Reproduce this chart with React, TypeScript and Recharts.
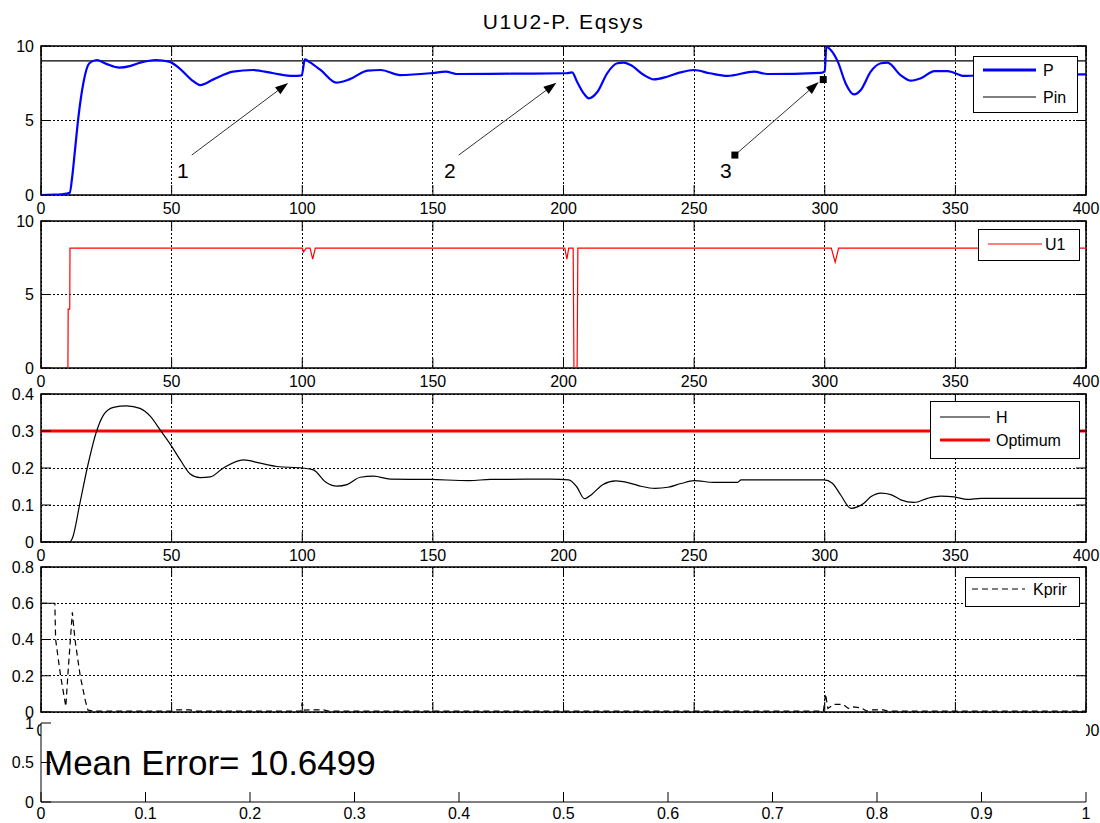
import React from 'react';
import {
  LineChart,
  Line,
  XAxis,
  YAxis,
  CartesianGrid,
  ReferenceArea,
  ReferenceLine,
  ReferenceDot,
  Legend
} from 'recharts';

if (typeof document !== 'undefined') document.body.style.margin = '0';

const FONT = '"Liberation Sans", Arial, Helvetica, sans-serif';

// ---- axes ----
const timeTicks = [0, 50, 100, 150, 200, 250, 300, 350, 400];
const powerTicks = [0, 5, 10];
const hTicks = [0, 0.1, 0.2, 0.3, 0.4];
const kTicks = [0, 0.2, 0.4, 0.6, 0.8];
const errXTicks = [0, 0.1, 0.2, 0.3, 0.4, 0.5, 0.6, 0.7, 0.8, 0.9, 1];
const errYTicks = [0, 0.5, 1];

// ---- panel 1: P and Pin ----
const pTime = [0, 5, 10, 11, 12, 13, 14.3, 16.2, 18.5, 21.3, 25, 30, 34, 38, 44, 49, 53, 57.5, 61, 66, 73.5, 81, 89, 96.5, 99.8, 101, 103, 107, 113, 118, 125, 130, 137.5, 149, 155, 159, 180, 201, 203.3, 205.2, 207.8, 209.7, 213, 216.7, 220.6, 223, 225.7, 230.8, 234.6, 239.7, 244.8, 250, 256, 262.7, 273, 278, 298.5, 300, 300.6, 302.3, 305, 308, 311.2, 313.8, 317.6, 321.5, 324, 329, 333, 336.8, 342, 347, 353.4, 361, 400];
const pValues = [0, 0.02, 0.1, 0.15, 1.3, 3, 5.2, 7.5, 8.84, 9.06, 8.8, 8.55, 8.65, 8.88, 9.06, 8.95, 8.5, 7.75, 7.38, 7.76, 8.28, 8.39, 8.17, 7.99, 8.03, 9.1, 8.9, 8.39, 7.54, 7.76, 8.35, 8.39, 8.05, 8.17, 8.28, 8.12, 8.14, 8.17, 8.23, 7.6, 6.8, 6.49, 6.93, 8.17, 8.84, 8.88, 8.72, 8.05, 7.76, 7.94, 8.23, 8.39, 8.17, 7.99, 8.28, 8.12, 8.2, 8.3, 9.95, 9.73, 8.95, 7.49, 6.75, 7.05, 8.28, 8.84, 8.88, 8.05, 7.67, 7.83, 8.32, 8.32, 7.99, 8.05, 8.1];
const pinTime = [0, 400];
const pinValues = [9, 9];

// annotation arrows: label, start (t, P), tip (t, P)
const arrowLabels = ['1', '2', '3'];
const arrowFromT = [57.7, 159.9, 265.6];
const arrowFromV = [2.68, 2.68, 2.68];
const arrowToT = [94.6, 197.3, 297.7];
const arrowToV = [7.52, 7.54, 7.58];
const arrowSquares = [false, false, true];

// ---- panel 2: U1 ----
const u1Time = [0, 10.3, 10.4, 11, 11.1, 100, 100.5, 101.5, 103, 104, 105, 200.5, 201.3, 202, 203.7, 204, 205.2, 205.5, 302.5, 304, 305.3, 400];
const u1Values = [0, 0, 4, 4, 8.15, 8.15, 7.9, 8.15, 8.15, 7.4, 8.15, 8.15, 7.4, 8.15, 8.15, 0, 0, 8.15, 8.15, 7.2, 8.15, 8.15];

// ---- panel 3: H and Optimum ----
const hTime = [0, 11, 12, 14.9, 17.7, 21.3, 23.9, 27.7, 32.8, 37.9, 41.8, 45.6, 49.4, 53.3, 57.1, 60.9, 64.8, 69.8, 77.5, 83.9, 90.3, 100, 104.3, 108.8, 113.3, 117.1, 122.2, 127.3, 133.7, 149, 164, 172, 195, 202, 205, 208, 211, 215, 220, 225, 230, 235, 240, 245, 250, 257.6, 266.6, 268, 299.7, 302.9, 306.1, 310, 312.5, 315, 317.6, 321.5, 325.3, 329.1, 334.2, 339.3, 344.4, 349.5, 354.6, 359.8, 400];
const hValues = [0, 0, 0.01, 0.105, 0.2, 0.3, 0.343, 0.364, 0.368, 0.361, 0.34, 0.303, 0.265, 0.222, 0.184, 0.174, 0.176, 0.2, 0.222, 0.213, 0.204, 0.2, 0.195, 0.163, 0.151, 0.155, 0.175, 0.178, 0.17, 0.169, 0.166, 0.169, 0.17, 0.168, 0.15, 0.117, 0.13, 0.155, 0.165, 0.16, 0.15, 0.145, 0.148, 0.158, 0.166, 0.161, 0.161, 0.168, 0.168, 0.159, 0.127, 0.091, 0.095, 0.105, 0.122, 0.132, 0.128, 0.114, 0.107, 0.118, 0.124, 0.122, 0.115, 0.118, 0.118];
const optTime = [0, 400];
const optValues = [0.3, 0.3];

// ---- panel 4: Kprir ----
const kTime = [0, 5.3, 5.6, 7.5, 9.5, 10.5, 12, 13, 15, 17, 18, 20, 50, 52, 57, 59, 99.5, 100, 100.8, 103, 108, 110, 299.5, 300.3, 301.2, 303.5, 307, 309, 311, 314, 316, 318, 322.5, 324, 400];
const kValues = [0.6, 0.6, 0.4, 0.2, 0.03, 0.25, 0.55, 0.4, 0.2, 0.06, 0.01, 0.005, 0.005, 0.012, 0.012, 0.005, 0.005, 0.05, 0.01, 0.012, 0.012, 0.005, 0.005, 0.1, 0.02, 0.042, 0.042, 0.02, 0.028, 0.022, 0.005, 0.012, 0.012, 0.005, 0.005];

// ---- panel 5 ----
const meanErrorText = 'Mean Error= 10.6499';
const meanErrorAt = { t: 0, v: 0.5 };

const pts = (ts: number[], vs: number[]) => ts.map((t, i) => ({ t, v: vs[i] }));

const PLOT_LEFT = 41;
const PLOT_RIGHT = 1086;
const PLOT_W = PLOT_RIGHT - PLOT_LEFT;

interface LegendItem { name: string; color: string; width: number; dash?: string }
interface LegendSpec { left: number; top: number; width: number; height: number; lineX1: number; lineX2: number; textX: number; rows: number[] }

const LegendBox = ({ spec, items }: { spec: LegendSpec; items: LegendItem[] }) => (
  <svg width={spec.width} height={spec.height} style={{ display: 'block' }}>
    <rect x={0.5} y={0.5} width={spec.width - 1} height={spec.height - 1} fill="#fff" stroke="#000" />
    {items.map((it, i) => (
      <g key={it.name}>
        <line x1={spec.lineX1} x2={spec.lineX2} y1={spec.rows[i]} y2={spec.rows[i]} stroke={it.color} strokeWidth={it.width} strokeDasharray={it.dash} />
        <text x={spec.textX} y={spec.rows[i]} dy="0.36em" fontSize={16} fontFamily={FONT} fill="#000">{it.name}</text>
      </g>
    ))}
  </svg>
);

const arrowShape = (label: string, squares: boolean) => (props: any) => {
  const { x1, y1, x2, y2 } = props;
  const ang = Math.atan2(y2 - y1, x2 - x1);
  const L = 13;
  const W = 4.5;
  const bx = x2 - L * Math.cos(ang);
  const by = y2 - L * Math.sin(ang);
  const ox = -Math.sin(ang) * W;
  const oy = Math.cos(ang) * W;
  return (
    <g>
      <line x1={x1} y1={y1} x2={bx} y2={by} stroke="#333" strokeWidth={1} />
      <polygon points={`${x2},${y2} ${bx + ox},${by + oy} ${bx - ox},${by - oy}`} fill="#000" />
      {squares && <rect x={x1 - 3.5} y={y1 - 3.5} width={7} height={7} fill="#000" />}
      {squares && <rect x={x2 + 1} y={y2 - 6} width={7} height={7} fill="#000" />}
      <text x={x1 - 9} y={y1 + 15} dy="0.36em" textAnchor="middle" fontSize={21} fontFamily={FONT} fill="#000">{label}</text>
    </g>
  );
};

interface PanelProps {
  plotTop: number;
  plotHeight: number;
  xDomain: [number, number];
  xTicks: number[];
  yDomain: [number, number];
  yTicks: number[];
  boxed: boolean;
  labelGap?: number;
  legendSpec?: LegendSpec;
  legendItems?: LegendItem[];
  children?: React.ReactNode;
}

const Panel = ({ plotTop, plotHeight, xDomain, xTicks, yDomain, yTicks, boxed, labelGap = 7, legendSpec, legendItems, children }: PanelProps) => {
  const height = plotHeight + 10 + 30;

  const XTick = (props: any) => {
    const { x, y, payload } = props;
    return (
      <g>
        <line x1={x} y1={y} x2={x} y2={y - 10} stroke="#000" />
        {boxed && <line x1={x} y1={y - plotHeight} x2={x} y2={y - plotHeight + 10} stroke="#000" />}
        <text x={x} y={y + labelGap} dy="0.72em" textAnchor="middle" fontSize={16} fontFamily={FONT} fill="#000">{String(payload.value)}</text>
      </g>
    );
  };

  const YTick = (props: any) => {
    const { x, y, payload } = props;
    return (
      <g>
        <line x1={x} y1={y} x2={x + 10} y2={y} stroke="#000" />
        {boxed && <line x1={x + PLOT_W} y1={y} x2={x + PLOT_W - 10} y2={y} stroke="#000" />}
        <text x={x - 7} y={y} dy="0.36em" textAnchor="end" fontSize={16} fontFamily={FONT} fill="#000">{String(payload.value)}</text>
      </g>
    );
  };

  return (
    <div style={{ position: 'absolute', left: 0, top: plotTop - 10 }}>
      <LineChart width={1100} height={height} margin={{ top: 10, right: 1100 - PLOT_RIGHT, bottom: 0, left: 0 }}>
        {boxed ? (
          <CartesianGrid stroke="#000" strokeDasharray="2 2" shapeRendering="crispEdges" />
        ) : (
          <CartesianGrid horizontal={false} vertical={false} fill="#fff" />
        )}
        <XAxis
          type="number"
          dataKey="t"
          domain={xDomain}
          ticks={xTicks}
          interval={0}
          allowDataOverflow
          height={30}
          tickSize={0}
          tickMargin={0}
          tick={XTick}
          tickLine={false}
          axisLine={boxed ? false : { stroke: '#000' }}
        />
        <YAxis
          type="number"
          dataKey="v"
          domain={yDomain}
          ticks={yTicks}
          interval={0}
          allowDataOverflow
          width={PLOT_LEFT}
          tickSize={0}
          tickMargin={0}
          tick={YTick}
          tickLine={false}
          axisLine={boxed ? false : { stroke: '#000' }}
        />
        {boxed && (
          <ReferenceArea x1={xDomain[0]} x2={xDomain[1]} y1={yDomain[0]} y2={yDomain[1]} fill="none" fillOpacity={0} stroke="#000" strokeWidth={1.5} ifOverflow="visible" />
        )}
        {children}
        {legendSpec && legendItems && (
          <Legend
            layout="vertical"
            align="center"
            verticalAlign="middle"
            wrapperStyle={{ left: legendSpec.left, top: legendSpec.top - (plotTop - 10), width: legendSpec.width, height: legendSpec.height, margin: 0, padding: 0 }}
            content={() => <LegendBox spec={legendSpec} items={legendItems} />}
          />
        )}
      </LineChart>
    </div>
  );
};

const legend1: LegendItem[] = [
  { name: 'P', color: '#0000ff', width: 3 },
  { name: 'Pin', color: '#000', width: 1.2 }
];
const legend2: LegendItem[] = [{ name: 'U1', color: '#ff0000', width: 1.2 }];
const legend3: LegendItem[] = [
  { name: 'H', color: '#000', width: 1.2 },
  { name: 'Optimum', color: '#ff0000', width: 3 }
];
const legend4: LegendItem[] = [{ name: 'Kprir', color: '#000', width: 1.2, dash: '6 4' }];

export default function App() {
  return (
    <div style={{ position: 'relative', width: 1100, height: 823, background: '#fff', overflow: 'hidden' }}>
      <div style={{ position: 'absolute', left: PLOT_LEFT, width: PLOT_W, top: 10, textAlign: 'center', fontFamily: FONT, fontSize: 21, letterSpacing: 1.6, color: '#000' }}>
        U1U2-P. Eqsys
      </div>

      <Panel
        plotTop={46}
        plotHeight={149}
        xDomain={[0, 400]}
        xTicks={timeTicks}
        yDomain={[0, 10]}
        yTicks={powerTicks}
        boxed
        legendSpec={{ left: 973, top: 56, width: 105, height: 57, lineX1: 10, lineX2: 63, textX: 70, rows: [14, 41] }}
        legendItems={legend1}
      >
        <Line data={pts(pinTime, pinValues)} dataKey="v" type="linear" stroke="#000" strokeWidth={1.2} dot={false} activeDot={false} isAnimationActive={false} />
        <Line data={pts(pTime, pValues)} dataKey="v" type="monotone" stroke="#0000ff" strokeWidth={2.2} dot={false} activeDot={false} isAnimationActive={false} />
        {arrowLabels.map((lab, i) => (
          <ReferenceLine
            key={lab}
            segment={[{ x: arrowFromT[i], y: arrowFromV[i] }, { x: arrowToT[i], y: arrowToV[i] }]}
            stroke="#000"
            ifOverflow="visible"
            shape={arrowShape(lab, arrowSquares[i])}
          />
        ))}
      </Panel>

      <Panel
        plotTop={221}
        plotHeight={147}
        xDomain={[0, 400]}
        xTicks={timeTicks}
        yDomain={[0, 10]}
        yTicks={powerTicks}
        boxed
        legendSpec={{ left: 978, top: 229, width: 102, height: 32, lineX1: 10, lineX2: 64, textX: 67, rows: [15] }}
        legendItems={legend2}
      >
        <Line data={pts(u1Time, u1Values)} dataKey="v" type="linear" stroke="#ff0000" strokeWidth={1.2} dot={false} activeDot={false} isAnimationActive={false} />
      </Panel>

      <Panel
        plotTop={394}
        plotHeight={148}
        xDomain={[0, 400]}
        xTicks={timeTicks}
        yDomain={[0, 0.4]}
        yTicks={hTicks}
        boxed
        legendSpec={{ left: 930, top: 401, width: 150, height: 58, lineX1: 10, lineX2: 60, textX: 66, rows: [16, 39] }}
        legendItems={legend3}
      >
        <Line data={pts(optTime, optValues)} dataKey="v" type="linear" stroke="#ff0000" strokeWidth={3} dot={false} activeDot={false} isAnimationActive={false} />
        <Line data={pts(hTime, hValues)} dataKey="v" type="monotone" stroke="#000" strokeWidth={1.2} dot={false} activeDot={false} isAnimationActive={false} />
      </Panel>

      <Panel
        plotTop={567}
        plotHeight={145}
        xDomain={[0, 400]}
        xTicks={timeTicks}
        yDomain={[0, 0.8]}
        yTicks={kTicks}
        boxed
        labelGap={12}
        legendSpec={{ left: 965, top: 577, width: 115, height: 30, lineX1: 7, lineX2: 60, textX: 68, rows: [12] }}
        legendItems={legend4}
      >
        <Line data={pts(kTime, kValues)} dataKey="v" type="linear" stroke="#000" strokeWidth={1.2} strokeDasharray="6 4" dot={false} activeDot={false} isAnimationActive={false} />
      </Panel>

      <Panel plotTop={723} plotHeight={79} xDomain={[0, 1]} xTicks={errXTicks} yDomain={[0, 1]} yTicks={errYTicks} boxed={false} labelGap={5}>
        <ReferenceDot
          x={meanErrorAt.t}
          y={meanErrorAt.v}
          r={0}
          ifOverflow="visible"
          shape={(p: any) => (
            <text x={p.cx + 3} y={p.cy} dy="0.36em" fontSize={35} fontFamily={FONT} fill="#000">{meanErrorText}</text>
          )}
        />
      </Panel>
    </div>
  );
}
